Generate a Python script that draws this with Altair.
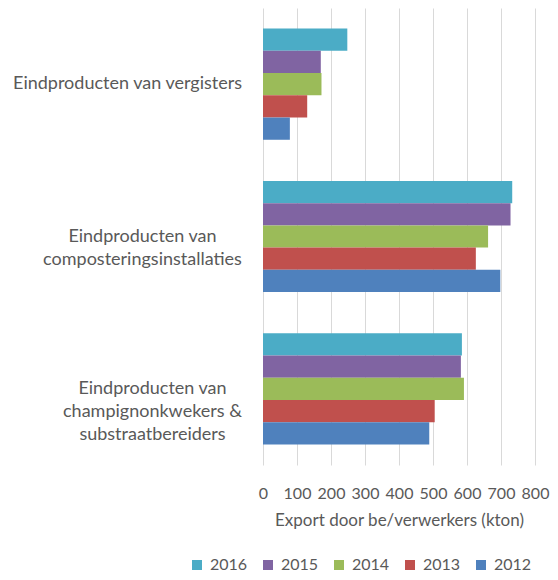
import altair as alt
import pandas as pd

categories = [
    "Eindproducten van vergisters",
    "Eindproducten van|composteringsinstallaties",
    "Eindproducten van|champignonkwekers &|substraatbereiders",
]
years = ["2016", "2015", "2014", "2013", "2012"]
values_2016 = [248, 733, 585]
values_2015 = [170, 728, 582]
values_2014 = [172, 662, 591]
values_2013 = [130, 626, 505]
values_2012 = [79, 698, 489]
colors = ["#4BACC6", "#8064A2", "#9BBB59", "#C0504D", "#4F81BD"]
x_ticks = [0, 100, 200, 300, 400, 500, 600, 700, 800]

series = {
    "2016": values_2016,
    "2015": values_2015,
    "2014": values_2014,
    "2013": values_2013,
    "2012": values_2012,
}
rows = []
for yr in years:
    for cat, v in zip(categories, series[yr]):
        rows.append({"categorie": cat, "jaar": yr, "export": v})
df = pd.DataFrame(rows)

FONT = "Lato"
GREY = "#595959"

chart = alt.Chart(df).mark_bar().encode(
    y=alt.Y(
        "categorie:N",
        sort=categories,
        scale=alt.Scale(paddingInner=0.27, paddingOuter=0.135),
        axis=alt.Axis(
            title=None,
            domain=False,
            ticks=False,
            grid=False,
            labelExpr="split(datum.label, '|')",
            labelAlign="center",
            labelBaseline="middle",
            labelFont=FONT,
            labelFontSize=18,
            labelColor=GREY,
            labelLineHeight=23,
            labelLimit=300,
            labelPadding={
                "condition": [
                    {"test": "indexof(datum.value, 'vergisters') >= 0", "value": 136},
                    {"test": "indexof(datum.value, 'composterings') >= 0", "value": 121},
                ],
                "value": 111,
            },
        ),
    ),
    yOffset=alt.YOffset("jaar:N", sort=years, scale=alt.Scale(paddingInner=0, paddingOuter=0)),
    x=alt.X(
        "export:Q",
        scale=alt.Scale(domain=[0, 800], nice=False),
        axis=alt.Axis(
            title="Export door be/verwerkers (kton)",
            values=x_ticks,
            grid=True,
            gridColor="#D9D9D9",
            gridWidth=1,
            domain=False,
            ticks=False,
            labelFont=FONT,
            labelFontSize=16,
            labelColor=GREY,
            labelPadding=20,
            labelFlush=False,
            titleFont=FONT,
            titleFontSize=17,
            titleFontWeight="normal",
            titleColor=GREY,
            titlePadding=11,
        ),
    ),
    color=alt.Color(
        "jaar:N",
        sort=years,
        scale=alt.Scale(domain=years, range=colors),
        legend=alt.Legend(
            title=None,
            orient="none",
            legendX=-74,
            legendY=549,
            direction="horizontal",
            columns=5,
            symbolType="square",
            symbolSize=100,
            symbolStrokeWidth=0,
            labelFont=FONT,
            labelFontSize=16,
            labelColor=GREY,
            labelOffset=5,
            columnPadding=12,
        ),
    ),
).properties(
    width=272,
    height=457,
    autosize=alt.AutoSizeParams(type="none"),
    padding={"left": 255, "top": 0, "right": 15, "bottom": 107},
).configure_view(stroke=None)

chart.save("out.html", embed_options={"renderer": "svg", "actions": False})
